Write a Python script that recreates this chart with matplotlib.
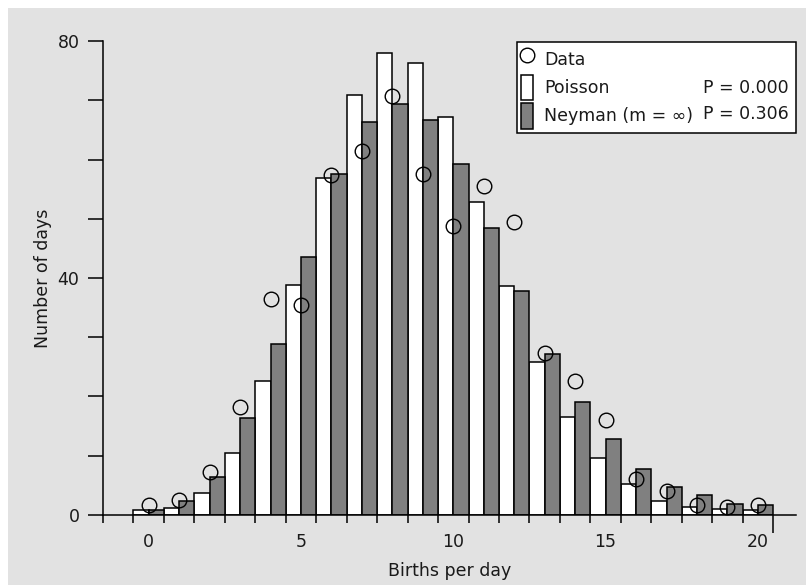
import matplotlib
matplotlib.use("Agg")
import matplotlib.pyplot as plt
import numpy as np
from matplotlib.lines import Line2D
from matplotlib.patches import Patch, Rectangle

births = np.arange(0, 21)
data_days = [1.7, 2.6, 7.3, 18.2, 36.5, 35.4, 57.3, 61.4, 70.7, 57.6, 48.8,
             55.5, 49.5, 27.3, 22.6, 16.0, 6.0, 4.1, 1.6, 1.4, 1.6]
poisson_days = [0.8, 1.1, 3.7, 10.4, 22.6, 38.8, 56.8, 70.9, 77.9, 76.3, 67.2,
                52.9, 38.7, 25.8, 16.6, 9.6, 5.2, 2.4, 1.4, 1.0, 0.8]
neyman_days = [0.8, 2.4, 6.4, 16.3, 28.8, 43.5, 57.6, 66.3, 69.3, 66.6, 59.2,
               48.4, 37.8, 27.2, 19.0, 12.8, 7.7, 4.7, 3.3, 1.9, 1.6]
p_values = ['P = 0.000', 'P = 0.306']

bg = '#e2e2e2'
txt = '#1a1a1a'
plt.rcParams['font.family'] = ['DejaVu Sans']
plt.rcParams['font.size'] = 12.5

fig = plt.figure(figsize=(8.06, 5.85), dpi=100, facecolor='white')
# grey panel, leaving a thin white strip on top and left
fig.patches.append(Rectangle((8 / 806, 0), 1, 1 - 8 / 585, transform=fig.transFigure,
                             facecolor=bg, edgecolor='none', zorder=-10))

ax = fig.add_axes([0.1278, 0.1197, 0.8598, 0.8102])
ax.set_facecolor(bg)

ax.bar(births - 0.25, poisson_days, width=0.5, color='white', edgecolor='black',
       linewidth=1.1, label='Poisson')
ax.bar(births + 0.25, neyman_days, width=0.5, color='#808080', edgecolor='black',
       linewidth=1.1, label='Neyman (m = \u221e)')
ax.plot(births, data_days, 'o', mfc='none', mec='black', ms=10.5, mew=1.0,
        linestyle='none', label='Data')

ax.set_xlim(-1.5, 21.25)
ax.set_ylim(0, 80)
for s in ['top', 'right']:
    ax.spines[s].set_visible(False)
ax.spines['left'].set_bounds(0, 80)
ax.spines['left'].set_linewidth(1.1)
ax.spines['bottom'].set_linewidth(1.1)

# x: tick marks at bin edges, labels at integers
ax.set_xticks(np.arange(-1.5, 21, 1))
ax.set_xticklabels([])
ax.tick_params(axis='x', which='major', direction='out', length=6, width=1.1)
ax.set_xticks([0, 5, 10, 15, 20], minor=True)
ax.set_xticklabels(['0', '5', '10', '15', '20'], minor=True, color=txt)
ax.tick_params(axis='x', which='minor', length=0, pad=13)
ax.xaxis.get_major_ticks()[-1].tick1line.set_markersize(13)

ax.set_yticks(np.arange(0, 81, 10))
ax.set_yticklabels(['0', '', '', '', '40', '', '', '', '80'], color=txt)
ax.tick_params(axis='y', direction='out', length=11, width=1.1, pad=6)

ax.set_xlabel('Births per day', color=txt, labelpad=8)
ax.set_ylabel('Number of days', color=txt, labelpad=4)

handles = [Line2D([], [], marker='o', mfc='none', mec='black', ms=10.5, mew=1.0, linestyle='none'),
           Patch(facecolor='white', edgecolor='black', linewidth=1.1),
           Patch(facecolor='#808080', edgecolor='black', linewidth=1.1)]
labels = ['Data', 'Poisson', 'Neyman (m = \u221e)']
leg = ax.legend(handles, labels, loc='upper left', bbox_to_anchor=(0.597, 0.798, 0.403, 0.2),
                mode='expand', fancybox=False, framealpha=1, edgecolor='black',
                handlelength=0.7, handleheight=1.9, handletextpad=0.63,
                labelspacing=0.15, borderpad=0.25, borderaxespad=0)
leg.get_frame().set_linewidth(1.1)
for t in leg.get_texts():
    t.set_color(txt)

ax.text(0.99, 0.901, p_values[0], transform=ax.transAxes, ha='right', va='center',
        color=txt, zorder=10)
ax.text(0.99, 0.846, p_values[1], transform=ax.transAxes, ha='right', va='center',
        color=txt, zorder=10)

fig.savefig('out.png', dpi=100, facecolor='white')
